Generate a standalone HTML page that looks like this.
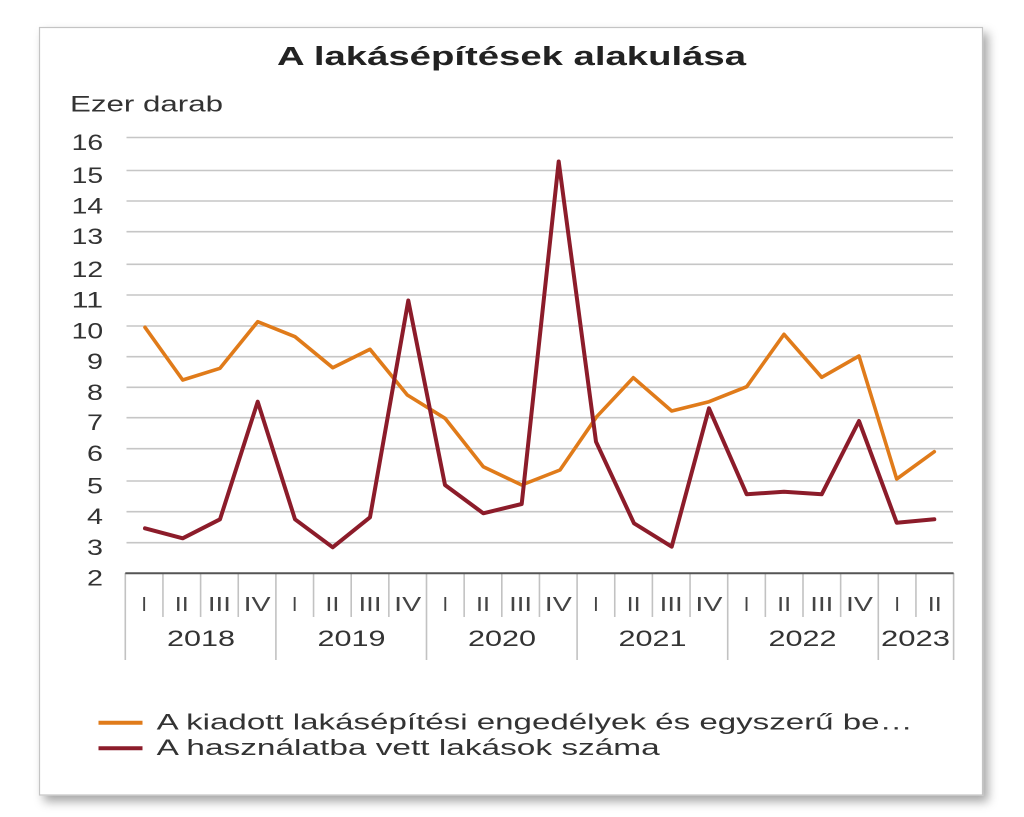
<!DOCTYPE html>
<html>
<head>
<meta charset="utf-8">
<style>
html,body{margin:0;padding:0;background:#fff;}
svg{display:block;}
text{font-family:"Liberation Sans",Arial,sans-serif;}
</style>
</head>
<body>
<svg width="1024" height="817" viewBox="0 0 1024 817" xmlns="http://www.w3.org/2000/svg">
<defs>
<filter id="sh" x="-5%" y="-5%" width="115%" height="115%">
<feDropShadow dx="5" dy="6" stdDeviation="5" flood-color="#000" flood-opacity="0.35"/>
</filter>
</defs>
<rect x="0" y="0" width="1024" height="817" fill="#fff"/>
<rect x="39.5" y="27.5" width="943" height="767.5" fill="#fff" stroke="#c4c4c4" stroke-width="1.2" filter="url(#sh)"/>

<!-- Title -->
<text x="277" y="65" font-size="25.5" font-weight="bold" fill="#222" textLength="469" lengthAdjust="spacingAndGlyphs">A lakásépítések alakulása</text>
<text x="70" y="111.5" font-size="22" fill="#333" textLength="153" lengthAdjust="spacingAndGlyphs">Ezer darab</text>

<!-- Gridlines -->
<g stroke="#c6c6c6" stroke-width="1.6">
<line x1="126.5" y1="137.5" x2="953" y2="137.5"/>
<line x1="126.5" y1="170.5" x2="953" y2="170.5"/>
<line x1="126.5" y1="201" x2="953" y2="201"/>
<line x1="126.5" y1="231.7" x2="953" y2="231.7"/>
<line x1="126.5" y1="264.3" x2="953" y2="264.3"/>
<line x1="126.5" y1="295" x2="953" y2="295"/>
<line x1="126.5" y1="326" x2="953" y2="326"/>
<line x1="126.5" y1="356.7" x2="953" y2="356.7"/>
<line x1="126.5" y1="387.3" x2="953" y2="387.3"/>
<line x1="126.5" y1="417.7" x2="953" y2="417.7"/>
<line x1="126.5" y1="448.7" x2="953" y2="448.7"/>
<line x1="126.5" y1="481" x2="953" y2="481"/>
<line x1="126.5" y1="511.7" x2="953" y2="511.7"/>
<line x1="126.5" y1="542.7" x2="953" y2="542.7"/>
</g>

<!-- Y labels -->
<g font-size="22" fill="#333">
<text x="71.7" y="150" textLength="31.5" lengthAdjust="spacingAndGlyphs">16</text>
<text x="71.7" y="183" textLength="31.5" lengthAdjust="spacingAndGlyphs">15</text>
<text x="71.7" y="213.5" textLength="31.5" lengthAdjust="spacingAndGlyphs">14</text>
<text x="71.7" y="244.2" textLength="31.5" lengthAdjust="spacingAndGlyphs">13</text>
<text x="71.7" y="276.8" textLength="31.5" lengthAdjust="spacingAndGlyphs">12</text>
<text x="71.7" y="307.5" textLength="31.5" lengthAdjust="spacingAndGlyphs">11</text>
<text x="71.7" y="338.5" textLength="31.5" lengthAdjust="spacingAndGlyphs">10</text>
<text x="87" y="369.2" textLength="16" lengthAdjust="spacingAndGlyphs">9</text>
<text x="87" y="399.8" textLength="16" lengthAdjust="spacingAndGlyphs">8</text>
<text x="87" y="430.2" textLength="16" lengthAdjust="spacingAndGlyphs">7</text>
<text x="87" y="461.2" textLength="16" lengthAdjust="spacingAndGlyphs">6</text>
<text x="87" y="493.5" textLength="16" lengthAdjust="spacingAndGlyphs">5</text>
<text x="87" y="524.2" textLength="16" lengthAdjust="spacingAndGlyphs">4</text>
<text x="87" y="555.2" textLength="16" lengthAdjust="spacingAndGlyphs">3</text>
<text x="87" y="585.5" textLength="16" lengthAdjust="spacingAndGlyphs">2</text>
</g>

<!-- Category ticks -->
<g stroke="#c2c2c2" stroke-width="1.6">
<line x1="125.3" y1="573" x2="125.3" y2="660"/>
<line x1="162.95" y1="573" x2="162.95" y2="617"/>
<line x1="200.6" y1="573" x2="200.6" y2="617"/>
<line x1="238.25" y1="573" x2="238.25" y2="617"/>
<line x1="275.9" y1="573" x2="275.9" y2="660"/>
<line x1="313.55" y1="573" x2="313.55" y2="617"/>
<line x1="351.2" y1="573" x2="351.2" y2="617"/>
<line x1="388.85" y1="573" x2="388.85" y2="617"/>
<line x1="426.5" y1="573" x2="426.5" y2="660"/>
<line x1="464.15" y1="573" x2="464.15" y2="617"/>
<line x1="501.8" y1="573" x2="501.8" y2="617"/>
<line x1="539.45" y1="573" x2="539.45" y2="617"/>
<line x1="577.1" y1="573" x2="577.1" y2="660"/>
<line x1="614.75" y1="573" x2="614.75" y2="617"/>
<line x1="652.4" y1="573" x2="652.4" y2="617"/>
<line x1="690.05" y1="573" x2="690.05" y2="617"/>
<line x1="727.7" y1="573" x2="727.7" y2="660"/>
<line x1="765.35" y1="573" x2="765.35" y2="617"/>
<line x1="803" y1="573" x2="803" y2="617"/>
<line x1="840.65" y1="573" x2="840.65" y2="617"/>
<line x1="878.3" y1="573" x2="878.3" y2="660"/>
<line x1="915.95" y1="573" x2="915.95" y2="617"/>
<line x1="953.6" y1="573" x2="953.6" y2="660"/>
</g>
<line x1="125.3" y1="573.3" x2="953.6" y2="573.3" stroke="#555" stroke-width="2"/>

<!-- Quarter labels -->
<g font-size="20" fill="#444" text-anchor="middle">
<text x="144.1" y="611">I</text>
<text x="181.8" y="611" textLength="14" lengthAdjust="spacingAndGlyphs">II</text>
<text x="219.4" y="611" textLength="23" lengthAdjust="spacingAndGlyphs">III</text>
<text x="257.1" y="611" textLength="27" lengthAdjust="spacingAndGlyphs">IV</text>
<text x="294.7" y="611">I</text>
<text x="332.4" y="611" textLength="14" lengthAdjust="spacingAndGlyphs">II</text>
<text x="370" y="611" textLength="23" lengthAdjust="spacingAndGlyphs">III</text>
<text x="407.7" y="611" textLength="27" lengthAdjust="spacingAndGlyphs">IV</text>
<text x="445.3" y="611">I</text>
<text x="483" y="611" textLength="14" lengthAdjust="spacingAndGlyphs">II</text>
<text x="520.6" y="611" textLength="23" lengthAdjust="spacingAndGlyphs">III</text>
<text x="558.3" y="611" textLength="27" lengthAdjust="spacingAndGlyphs">IV</text>
<text x="595.9" y="611">I</text>
<text x="633.6" y="611" textLength="14" lengthAdjust="spacingAndGlyphs">II</text>
<text x="671.2" y="611" textLength="23" lengthAdjust="spacingAndGlyphs">III</text>
<text x="708.9" y="611" textLength="27" lengthAdjust="spacingAndGlyphs">IV</text>
<text x="746.5" y="611">I</text>
<text x="784.2" y="611" textLength="14" lengthAdjust="spacingAndGlyphs">II</text>
<text x="821.8" y="611" textLength="23" lengthAdjust="spacingAndGlyphs">III</text>
<text x="859.5" y="611" textLength="27" lengthAdjust="spacingAndGlyphs">IV</text>
<text x="897.1" y="611">I</text>
<text x="934.8" y="611" textLength="14" lengthAdjust="spacingAndGlyphs">II</text>
</g>

<!-- Year labels -->
<g font-size="22" fill="#333">
<text x="167" y="646" textLength="68" lengthAdjust="spacingAndGlyphs">2018</text>
<text x="317.5" y="646" textLength="68" lengthAdjust="spacingAndGlyphs">2019</text>
<text x="468" y="646" textLength="68" lengthAdjust="spacingAndGlyphs">2020</text>
<text x="618.5" y="646" textLength="68" lengthAdjust="spacingAndGlyphs">2021</text>
<text x="768.5" y="646" textLength="68" lengthAdjust="spacingAndGlyphs">2022</text>
<text x="881" y="646" textLength="69" lengthAdjust="spacingAndGlyphs">2023</text>
</g>

<!-- Series -->
<polyline fill="none" stroke="#E07B1A" stroke-width="3.6" stroke-linejoin="round" stroke-linecap="round"
points="145,327.3 182.7,380 220,368.3 257.7,321.7 295,336.7 332.7,367.7 370,349.3 407.3,395 445,418.3 483.3,466.7 521.7,485 560,470 596.7,416.7 633.3,377.7 671.7,411 709,401.7 746.7,386.7 784,334.3 821.7,377.3 859,356 896.7,479 934.3,451.7"/>
<polyline fill="none" stroke="#8C1C2A" stroke-width="4" stroke-linejoin="round" stroke-linecap="round"
points="145,528.3 182.7,538.3 220,519.3 257.7,401.7 295,519.3 332.7,547.3 370,517.3 408.3,300.5 445,485 483.3,513.3 521.7,504 558.7,161.5 596,441.7 634,523.3 671.7,546.7 709,408.3 746.7,494.3 784,491.7 821.7,494.3 859,421 896.7,522.7 934.3,519.3"/>

<!-- Legend -->
<line x1="98.5" y1="722.7" x2="142.5" y2="722.7" stroke="#E07B1A" stroke-width="4"/>
<line x1="98.5" y1="748.3" x2="142.5" y2="748.3" stroke="#8C1C2A" stroke-width="4"/>
<text x="156.7" y="729.5" font-size="22" fill="#333" textLength="756" lengthAdjust="spacingAndGlyphs">A kiadott lakásépítési engedélyek és egyszerű be…</text>
<text x="156.7" y="755" font-size="22" fill="#333" textLength="503" lengthAdjust="spacingAndGlyphs">A használatba vett lakások száma</text>
</svg>
</body>
</html>
